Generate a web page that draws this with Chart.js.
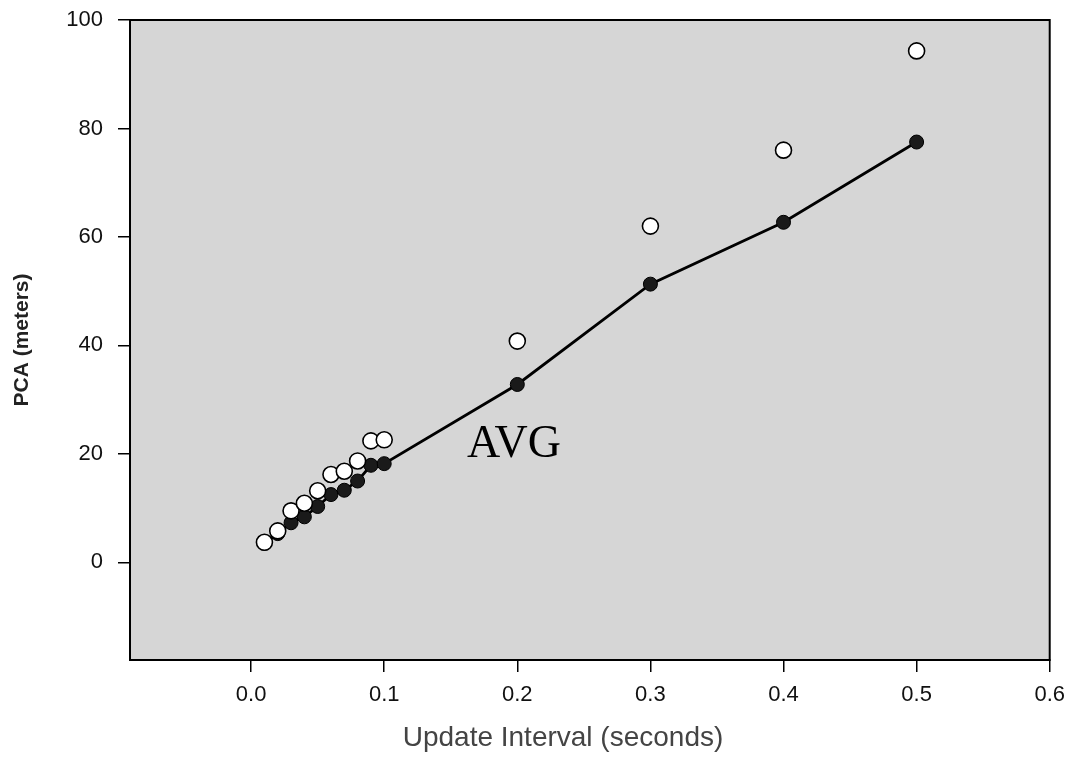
<!DOCTYPE html>
<html lang="en">

<head>
    <meta charset="utf-8" />
    <title>PCA vs update interval</title>
    <script src="https://cdn.jsdelivr.net/npm/chart.js@4"></script>
    <style>
        body {
            margin: 0;
            background: #fff;
        }
    </style>
</head>

<body>
    <canvas id="chart-pca" width="1075" height="761"></canvas>
</body>

<script>
    // update interval (seconds)
    const intervals = [0.01, 0.02, 0.03, 0.04, 0.05, 0.06, 0.07, 0.08, 0.09, 0.1, 0.2, 0.3, 0.4, 0.5];
    // open circles (upper series)
    const upperPca = [3.7, 5.8, 9.5, 10.9, 13.2, 16.2, 16.8, 18.7, 22.4, 22.6, 40.8, 62.0, 76.0, 94.3];
    // filled circles + line (AVG)
    const avgPca = [3.5, 5.3, 7.3, 8.4, 10.3, 12.5, 13.3, 15.0, 17.9, 18.2, 32.8, 51.3, 62.7, 77.5];

    const xTicks = [0.0, 0.1, 0.2, 0.3, 0.4, 0.5, 0.6];
    const yTicks = [0, 20, 40, 60, 80, 100];
    const avgLabel = { text: 'AVG', x: 0.1975, y: 19.5 };
    const xTitle = 'Update Interval (seconds)';

    const _toPoints = (xs, ys) => xs.map((x, i) => ({ x: x, y: ys[i] }));

    // grey plot background + full frame + the AVG note + x title
    const _framePlugin = {
        id: 'frame',
        beforeDraw(chart) {
            const { ctx, chartArea: a } = chart;
            ctx.save();
            ctx.fillStyle = '#d6d6d6';
            ctx.fillRect(a.left, a.top, a.right - a.left, a.bottom - a.top);
            ctx.restore();
        },
        afterDatasetsDraw(chart) {
            const { ctx, chartArea: a, scales } = chart;
            ctx.save();
            ctx.strokeStyle = '#000';
            ctx.lineWidth = 2;
            ctx.strokeRect(a.left, a.top, a.right - a.left, a.bottom - a.top);
            ctx.fillStyle = '#000';
            ctx.font = '46px "Liberation Serif", "Times New Roman", serif';
            ctx.textAlign = 'center';
            ctx.textBaseline = 'alphabetic';
            ctx.fillText(avgLabel.text, scales.x.getPixelForValue(avgLabel.x), scales.y.getPixelForValue(avgLabel.y));

            ctx.fillStyle = '#444';
            ctx.font = '28px "Liberation Sans", Arial, sans-serif';
            ctx.textBaseline = 'middle';
            ctx.fillText(xTitle, a.left + 433, a.bottom + 78);
            ctx.restore();
        }
    };

    const _ctx = document.getElementById('chart-pca').getContext('2d');
    const _chart = new Chart(_ctx, {
        type: 'scatter',
        data: {
            datasets: [{
                label: 'Upper',
                data: _toPoints(intervals, upperPca),
                showLine: false,
                pointRadius: 8,
                pointHoverRadius: 8,
                pointBackgroundColor: '#fff',
                pointBorderColor: '#000',
                pointBorderWidth: 1.6
            }, {
                label: 'AVG',
                data: _toPoints(intervals, avgPca),
                showLine: true,
                borderColor: '#000',
                borderWidth: 2.8,
                pointRadius: 7,
                pointHoverRadius: 7,
                pointBackgroundColor: '#1a1a1a',
                pointBorderColor: '#000',
                pointBorderWidth: 1
            }]
        },
        options: {
            responsive: false,
            animation: false,
            events: [],
            layout: {
                padding: { left: 0, top: 20, right: 23, bottom: 0 }
            },
            plugins: {
                legend: { display: false },
                tooltip: { enabled: false }
            },
            scales: {
                x: {
                    type: 'linear',
                    min: -0.091,
                    max: 0.6,
                    afterBuildTicks: scale => { scale.ticks = xTicks.map(v => ({ value: v })); },
                    afterFit: scale => { scale.height = 101; },
                    grid: { drawOnChartArea: false, drawTicks: true, tickLength: 12, color: '#000', lineWidth: 1.5 },
                    border: { display: true, color: '#000', width: 2 },
                    ticks: {
                        padding: 10,
                        color: '#111',
                        maxRotation: 0,
                        font: { family: '"Liberation Sans", Arial, sans-serif', size: 22 },
                        callback: v => v.toFixed(1)
                    }
                },
                y: {
                    type: 'linear',
                    min: -18,
                    max: 100,
                    afterBuildTicks: scale => { scale.ticks = yTicks.map(v => ({ value: v })); },
                    afterFit: scale => {
                        scale.width = 130;
                        scale.paddingTop = 0;
                        scale.paddingBottom = 0;
                    },
                    grid: { drawOnChartArea: false, drawTicks: true, tickLength: 12, color: '#000', lineWidth: 1.5 },
                    border: { display: true, color: '#000', width: 2 },
                    ticks: {
                        padding: 15,
                        color: '#111',
                        font: { family: '"Liberation Sans", Arial, sans-serif', size: 22 }
                    },
                    title: {
                        display: true,
                        text: 'PCA (meters)',
                        color: '#222',
                        font: { family: '"Liberation Sans", Arial, sans-serif', size: 21, weight: 'bold' },
                        padding: { top: 10, bottom: 0 }
                    }
                }
            }
        },
        plugins: [_framePlugin]
    });
</script>

</html>
